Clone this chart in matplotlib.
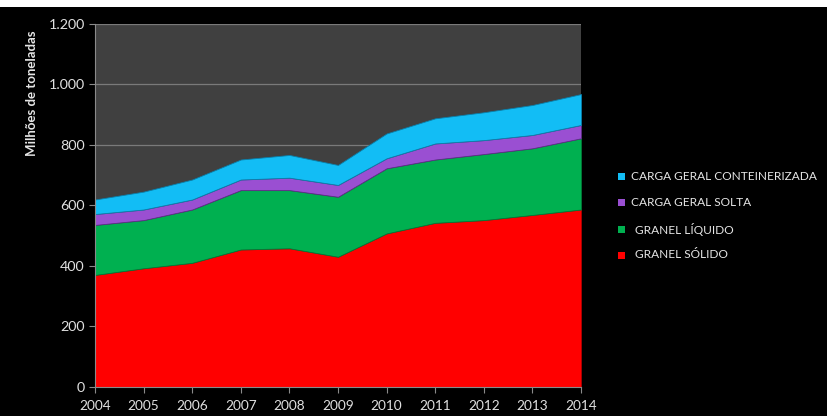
import matplotlib
matplotlib.use("Agg")
import matplotlib.pyplot as plt
from matplotlib.ticker import FuncFormatter
import numpy as np

years = [2004, 2005, 2006, 2007, 2008, 2009, 2010, 2011, 2012, 2013, 2014]
granel_solido = [370, 392, 410, 454, 458, 430, 507, 542, 551, 568, 586]
granel_liquido = [165, 159, 176, 196, 192, 198, 215, 209, 218, 220, 235]
carga_solta = [36, 35, 33, 35, 41, 39, 33, 53, 46, 44, 44]
carga_conteinerizada = [48, 59, 66, 66, 75, 66, 82, 83, 92, 99, 102]

series_labels = ["GRANEL SÓLIDO", "GRANEL LÍQUIDO", "CARGA GERAL SOLTA", "CARGA GERAL CONTEINERIZADA"]
colors = ["#FF0000", "#00B050", "#9A4FD2", "#12BDF5"]
edges = ["#B00000", "#007A38", "#5E2C86", "#0A7FAA"]

plt.rcParams['font.family'] = ['Lato', 'DejaVu Sans']
fig = plt.figure(figsize=(8.27, 4.16), dpi=100, facecolor="black")
ax = fig.add_axes([95/827, 1-387/416, (581-95)/827, (387-23.5)/416])
ax.set_facecolor("#404040")

data = [granel_solido, granel_liquido, carga_solta, carga_conteinerizada]
base = np.zeros(len(years))
for vals, c, ec in zip(data, colors, edges):
    top = base + np.array(vals)
    ax.fill_between(years, base, top, facecolor=c, edgecolor=ec, linewidth=0.6, zorder=2)
    base = top

ax.set_xlim(2004, 2014)
ax.set_ylim(0, 1200)
ax.set_yticks(range(0, 1201, 200))
ax.set_xticks(years)
ax.yaxis.set_major_formatter(FuncFormatter(lambda v, p: f"{int(v):,}".replace(",", ".")))
ax.grid(axis="y", color="#7a7a7a", linewidth=0.9, zorder=1)
ax.set_axisbelow(True)
for s in ["top", "right"]:
    ax.spines[s].set_visible(False)
ax.spines["left"].set_color("#8a8a8a")
ax.spines["bottom"].set_color("#8a8a8a")
ax.tick_params(colors="#8a8a8a", labelcolor="#E0E0E0", length=4, width=0.8)
ax.tick_params(axis="x", labelsize=9.8, pad=5)
ax.tick_params(axis="y", labelsize=10.3)
ax.set_ylabel("Milhões de toneladas", color="#E6E6E6", fontsize=9.5, fontweight="bold")
ax.yaxis.set_label_coords(-0.117, (387-93)/363.5)

# legend (manual, top to bottom)
leg_items = list(zip(series_labels, colors))[::-1]
ys = [177, 202, 229, 255]
for (lab, c), y in zip(leg_items, ys):
    yf = 1 - y/416
    fig.patches.append(plt.Rectangle((618/827, yf - 3.5/416), 7/827, 7/416, transform=fig.transFigure,
                                     facecolor=c, edgecolor="none"))
    xoff = 631 if "CARGA" in lab else 635
    fig.text(xoff/827, yf, lab, color="#E6E6E6", fontsize=8.6, va="center", ha="left")

# white strip at top (cut-off title area)
fig.patches.append(plt.Rectangle((0, 1-7/416), 1, 7/416, transform=fig.transFigure,
                                 facecolor="white", edgecolor="none"))

fig.savefig("out.png", dpi=100, facecolor="black")
